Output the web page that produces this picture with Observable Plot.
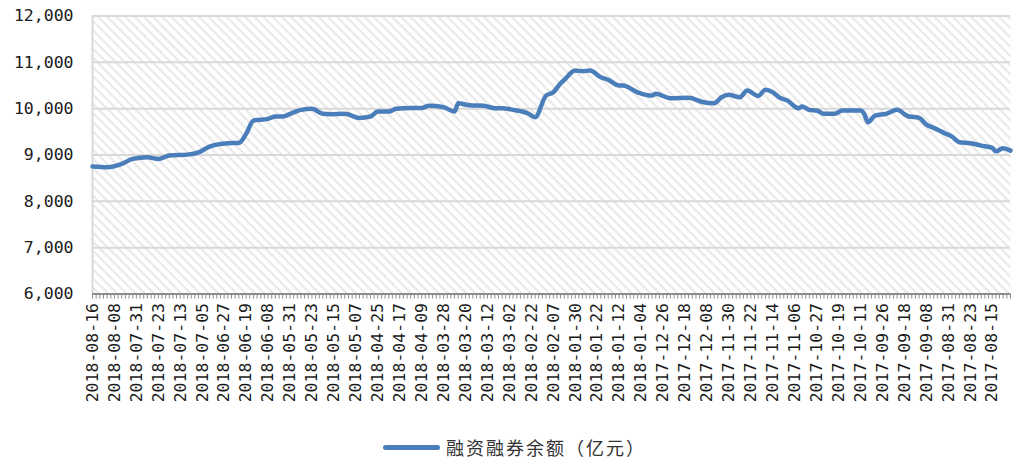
<!DOCTYPE html>
<html>
<head>
<meta charset="utf-8">
<script src="https://cdn.jsdelivr.net/npm/d3@7"></script>
<script src="https://cdn.jsdelivr.net/npm/@observablehq/plot@0.6"></script>
<style>
  html, body { margin: 0; padding: 0; background: #fff; }
  #wrap { position: relative; width: 1017px; height: 461px; overflow: hidden; }
  #legend { position: absolute; left: 383px; top: 434px; display: flex; align-items: center;
            font-family: "Noto Sans CJK SC", sans-serif; font-size: 18px; color: #333; letter-spacing: 2px; }
  #legend .sw { width: 57px; height: 5px; border-radius: 3px; background: #4a7ebb; margin-right: 6px; }
</style>
</head>
<body>
<div id="wrap"><div id="chart"></div><div id="legend"><span class="sw"></span><span>融资融券余额（亿元）</span></div></div>
<script>
// Trading-day index (0 = 2018-08-16, counting back to 2017-08) and the balance read at it (亿元)
const dayIndex = [0,4,8,11,15,18,21,26,29,32,37,40,42,44,48,50,52,55,57,60,63,65,69,73,76,78,81,83,87,90,92,96,99,100,103,107,110,112,115,119,121,124,126,128,129,132,134,136,139,141,144,145,149,153,154,158,163,167,170,172,174,177,179,182,184,186,188,190,193,194,196,198,200,203,205,210,211,212,214,217,220,223,226,228,230,233,235,237,240,243,246,247,249,251];
const balance = [8750,8735,8808,8916,8950,8916,8987,9008,9058,9181,9253,9260,9456,9743,9780,9830,9830,9922,9974,9996,9888,9880,9888,9801,9830,9937,9937,9996,10017,10017,10061,10030,9937,10117,10073,10061,10010,10010,9974,9901,9815,10283,10354,10549,10622,10823,10808,10823,10678,10622,10499,10499,10354,10283,10320,10225,10233,10139,10117,10247,10298,10247,10391,10276,10406,10354,10233,10175,10010,10045,9974,9959,9888,9888,9959,9959,9888,9706,9851,9888,9974,9836,9801,9657,9585,9469,9397,9275,9253,9203,9153,9080,9145,9095];
const tickLabels = ["2018-08-16","2018-08-08","2018-07-31","2018-07-23","2018-07-13","2018-07-05","2018-06-27","2018-06-19","2018-06-08","2018-05-31","2018-05-23","2018-05-15","2018-05-07","2018-04-25","2018-04-17","2018-04-09","2018-03-28","2018-03-20","2018-03-12","2018-03-02","2018-02-22","2018-02-07","2018-01-30","2018-01-22","2018-01-12","2018-01-04","2017-12-26","2017-12-18","2017-12-08","2017-11-30","2017-11-22","2017-11-14","2017-11-06","2017-10-27","2017-10-19","2017-10-11","2017-09-26","2017-09-18","2017-09-08","2017-08-31","2017-08-23","2017-08-15"];
const yTicks = [6000,7000,8000,9000,10000,11000,12000];
const nDays = 252;
const labelEvery = 6;

const data = dayIndex.map((d, i) => ({d, v: balance[i]}));
const labelTicks = tickLabels.map((_, i) => i * labelEvery);
const allDays = d3.range(nDays);

const chart = Plot.plot({
  width: 1017,
  height: 430,
  marginLeft: 92,
  marginRight: 7,
  marginTop: 15.5,
  marginBottom: 136.5,
  style: {fontFamily: "'DejaVu Sans Mono', monospace", color: "#1a1a1a", background: "transparent"},
  x: {domain: [0, nDays - 1]},
  y: {domain: [6000, 12000]},
  marks: [
    Plot.frame({fill: "#fff", stroke: null}),
    Plot.gridY(yTicks, {stroke: "#d9d9d9", strokeWidth: 2, strokeOpacity: 1}),
    Plot.ruleX([0], {stroke: "#d9d9d9", strokeWidth: 2}),
    Plot.ruleX(allDays, {x: d => d, y1: 6000, y2: 5890, stroke: "#8c8c8c", strokeWidth: 1}),
    Plot.ruleY([6000], {stroke: "#8c8c8c", strokeWidth: 2}),
    Plot.axisY({ticks: yTicks, tickSize: 0, tickPadding: 19, fontSize: 16.5, tickFormat: d3.format(","), label: null}),
    Plot.axisX({ticks: labelTicks, tickSize: 0, tickPadding: 9, tickRotate: -90, fontSize: 16.5,
                tickFormat: i => tickLabels[i / labelEvery], label: null}),
    Plot.line(data, {x: "d", y: "v", stroke: "#4a7ebb", strokeWidth: 4.5, strokeLinejoin: "round", strokeLinecap: "round", curve: "monotone-x"})
  ]
});

// diagonal hatch fill for the plot area
const ns = "http://www.w3.org/2000/svg";
const defs = document.createElementNS(ns, "defs");
defs.innerHTML = `<pattern id="hatch" width="6.5" height="6.5" patternUnits="userSpaceOnUse" patternTransform="rotate(45)">
  <rect width="6.5" height="6.5" fill="#ffffff"/><rect width="6.5" height="2.2" fill="#e9e9e9"/></pattern>`;
chart.insertBefore(defs, chart.firstChild);
const frameRect = chart.querySelector('[aria-label="frame"] rect') || chart.querySelector('[aria-label="frame"]');
if (frameRect) frameRect.setAttribute("fill", "url(#hatch)");
document.getElementById("chart").appendChild(chart);
</script>
</body>
</html>
